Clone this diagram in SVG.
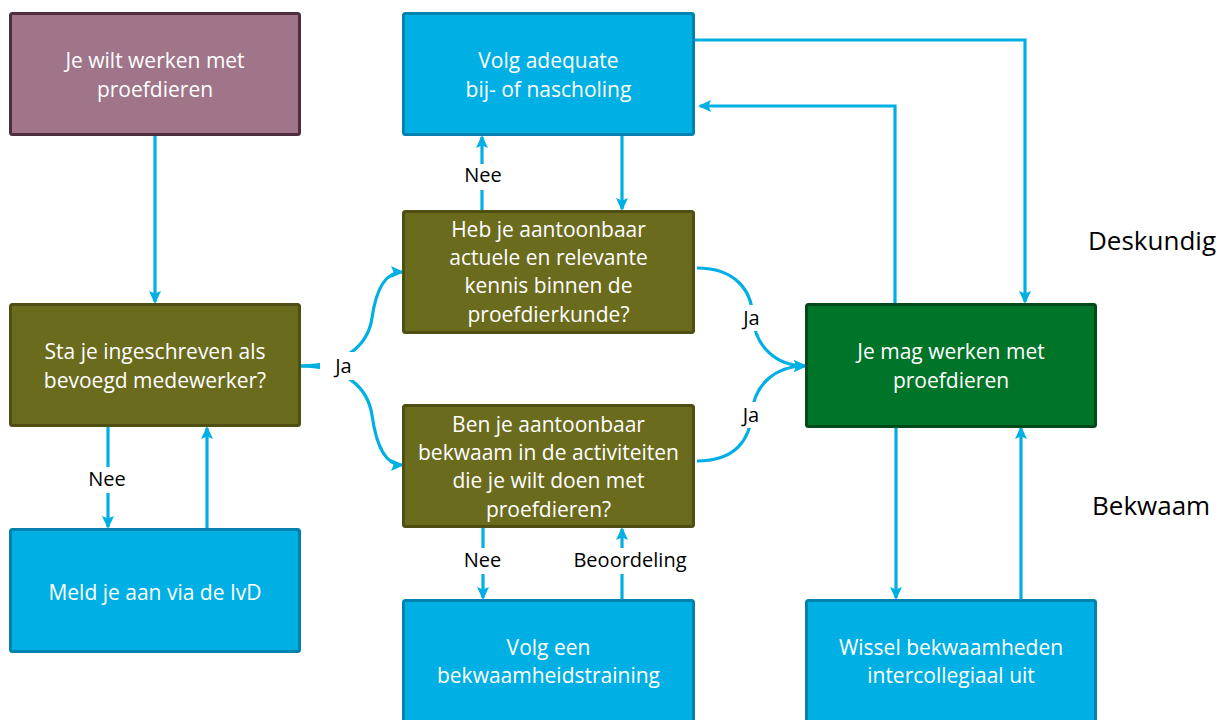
<svg xmlns="http://www.w3.org/2000/svg" width="1226" height="720" viewBox="0 0 1226 720">
<style>
.box{stroke-width:3}
.purple{fill:#A07589;stroke:#4E2E3E}
.olive{fill:#6B6B1E;stroke:#4F4F14}
.blue{fill:#00B0E4;stroke:#0082AE}
.green{fill:#00752A;stroke:#00491A}
.bt{font-family:"Open Sans","Noto Sans",sans-serif;font-size:21px;fill:#FFFFFF;text-anchor:middle}
.lbl{font-family:"Open Sans","Noto Sans",sans-serif;font-size:20px;fill:#000000;text-anchor:middle}
.side{font-family:"Open Sans","Noto Sans",sans-serif;font-size:26px;fill:#000000}
.con{fill:none;stroke:#00B0E4;stroke-width:3.2}
.bg{fill:#FFFFFF}
</style>
<defs>
<marker id="arr" markerUnits="userSpaceOnUse" markerWidth="13" markerHeight="13" refX="11" refY="6.5" orient="auto" viewBox="0 0 13 13">
<path d="M0,0.5 L13,6.5 L0,12.5 L2.5,6.5 z" fill="#00B0E4"/>
</marker>
</defs>
<rect width="1226" height="720" fill="#FFFFFF"/>

<g id="connectors">
<path class="con" d="M155,136 L155,302" marker-end="url(#arr)"/>
<path class="con" d="M108,427 L108,527" marker-end="url(#arr)"/>
<path class="con" d="M207,528 L207,428" marker-end="url(#arr)"/>
<path class="con" d="M301,366 C345,366 368,345 372,318 C376,290 385,272 402,272" marker-end="url(#arr)"/>
<path class="con" d="M301,366 C345,366 368,388 372,415 C376,444 385,465 402,465" marker-end="url(#arr)"/>
<path class="con" d="M622,136 L622,209" marker-end="url(#arr)"/>
<path class="con" d="M482,210 L482,137" marker-end="url(#arr)"/>
<path class="con" d="M697,268 C735,268 752,290 753,318 C755,345 775,366 805,366" marker-end="url(#arr)"/>
<path class="con" d="M697,461 C735,461 750,440 752,413 C754,385 775,366 805,366" marker-end="url(#arr)"/>
<path class="con" d="M483,528 L483,598" marker-end="url(#arr)"/>
<path class="con" d="M622,599 L622,529" marker-end="url(#arr)"/>
<path class="con" d="M695,40 L1025,40 L1025,302" marker-end="url(#arr)"/>
<path class="con" d="M895,303 L895,106 L700,106" marker-end="url(#arr)"/>
<path class="con" d="M896,427 L896,598" marker-end="url(#arr)"/>
<path class="con" d="M1021,599 L1021,428" marker-end="url(#arr)"/>
<g id="labels">
<rect class="bg" x="320" y="352" width="46" height="28"/>
<text class="lbl" x="343.5" y="373">Ja</text>
<rect class="bg" x="461" y="164" width="44" height="26"/>
<text class="lbl" x="483" y="182">Nee</text>
<rect class="bg" x="85" y="467" width="44" height="26"/>
<text class="lbl" x="107" y="486">Nee</text>
<rect class="bg" x="460" y="548" width="46" height="26"/>
<text class="lbl" x="482.5" y="567">Nee</text>
<rect class="bg" x="568" y="548" width="124" height="26"/>
<text class="lbl" x="630" y="567">Beoordeling</text>
<rect class="bg" x="739" y="305" width="26" height="26"/>
<text class="lbl" x="751.5" y="325">Ja</text>
<rect class="bg" x="738" y="402" width="26" height="26"/>
<text class="lbl" x="751" y="422">Ja</text>
</g>
</g>

<g id="n1"><rect class="box purple" x="10.5" y="13.5" width="289" height="121" rx="2"/>
<text class="bt" x="155" y="68">Je wilt werken met</text><text class="bt" x="155" y="97">proefdieren</text></g>

<g id="n2"><rect class="box olive" x="10.5" y="304.5" width="289" height="121" rx="2"/>
<text class="bt" x="155" y="359">Sta je ingeschreven als</text><text class="bt" x="155" y="388">bevoegd medewerker?</text></g>

<g id="n3"><rect class="box blue" x="10.5" y="529.5" width="289" height="122" rx="2"/>
<text class="bt" x="155" y="600">Meld je aan via de IvD</text></g>

<g id="n4"><rect class="box blue" x="403.5" y="13.5" width="290" height="121" rx="2"/>
<text class="bt" x="548.5" y="68">Volg adequate</text><text class="bt" x="548.5" y="97">bij- of nascholing</text></g>

<g id="n5"><rect class="box olive" x="403.5" y="211.5" width="290" height="121" rx="2"/>
<text class="bt" x="548.5" y="237">Heb je aantoonbaar</text><text class="bt" x="548.5" y="265">actuele en relevante</text><text class="bt" x="548.5" y="293">kennis binnen de</text><text class="bt" x="548.5" y="322">proefdierkunde?</text></g>

<g id="n6"><rect class="box olive" x="403.5" y="405.5" width="290" height="121" rx="2"/>
<text class="bt" x="548.5" y="432">Ben je aantoonbaar</text><text class="bt" x="548.5" y="460">bekwaam in de activiteiten</text><text class="bt" x="548.5" y="488">die je wilt doen met</text><text class="bt" x="548.5" y="517">proefdieren?</text></g>

<g id="n7"><rect class="box blue" x="403.5" y="600.5" width="290" height="124" rx="2"/>
<text class="bt" x="548.5" y="655">Volg een</text><text class="bt" x="548.5" y="683">bekwaamheidstraining</text></g>

<g id="n8"><rect class="box green" x="806.5" y="304.5" width="289" height="122" rx="2"/>
<text class="bt" x="951" y="359">Je mag werken met</text><text class="bt" x="951" y="388">proefdieren</text></g>

<g id="n9"><rect class="box blue" x="806.5" y="600.5" width="289" height="124" rx="2"/>
<text class="bt" x="951" y="655">Wissel bekwaamheden</text><text class="bt" x="951" y="683">intercollegiaal uit</text></g>

<g id="side">
<text class="side" x="1088" y="250">Deskundig</text>
<text class="side" x="1092" y="515">Bekwaam</text>
</g>
</svg>
